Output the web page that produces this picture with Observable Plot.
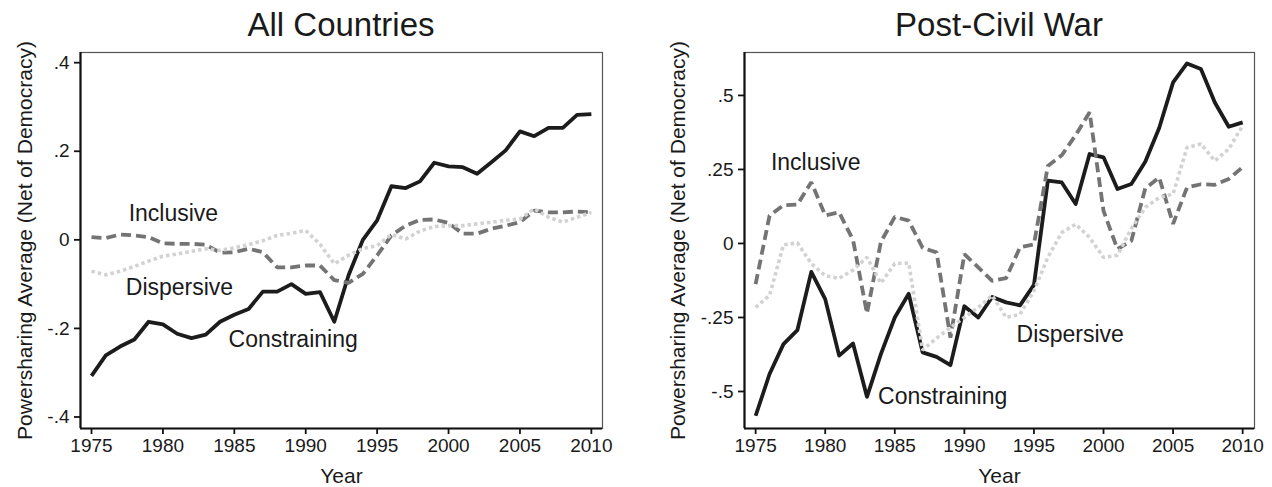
<!DOCTYPE html>
<html>
<head>
<meta charset="utf-8">
<script src="https://cdn.jsdelivr.net/npm/d3@7"></script>
<script src="https://cdn.jsdelivr.net/npm/@observablehq/plot@0.6"></script>
<style>
  body { margin: 0; background: #fff; font-family: "Liberation Sans", Arial, sans-serif; }
  #wrap { display: flex; width: 1272px; height: 487px; overflow: hidden; }
  .panel { width: 636px; position: relative; }
  .panel svg { display: block; }
  .title { position: absolute; top: 0; left: 0; width: 636px; height: 48px; line-height: 50px; font-size: 33px; color: #1a1a1a; text-align: center; box-sizing: border-box; z-index: 2; }
</style>
</head>
<body>
<div id="wrap"></div>
<script>
// ---- shared categories ----
const years = [1975,1976,1977,1978,1979,1980,1981,1982,1983,1984,1985,1986,1987,1988,1989,1990,1991,1992,
               1993,1994,1995,1996,1997,1998,1999,2000,2001,2002,2003,2004,2005,2006,2007,2008,2009,2010];
const xTicks = [1975, 1980, 1985, 1990, 1995, 2000, 2005, 2010];
const seriesNames = ["Constraining", "Inclusive", "Dispersive"];

// ---- All Countries ----
const allConstraining = [-0.307,-0.261,-0.241,-0.225,-0.185,-0.191,-0.212,-0.222,-0.214,-0.185,
  -0.169,-0.156,-0.117,-0.117,-0.100,-0.122,-0.118,-0.185,-0.080,0.000,
  0.044,0.121,0.117,0.132,0.174,0.166,0.164,0.149,0.175,0.202,
  0.245,0.234,0.253,0.253,0.282,0.284];
const allInclusive = [0.006,0.004,0.012,0.010,0.006,-0.008,-0.009,-0.009,-0.011,-0.029,
  -0.028,-0.020,-0.028,-0.062,-0.062,-0.058,-0.058,-0.091,-0.097,-0.077,
  -0.035,0.010,0.032,0.045,0.046,0.038,0.014,0.014,0.025,0.032,
  0.040,0.066,0.062,0.062,0.064,0.062];
const allDispersive = [-0.071,-0.079,-0.071,-0.060,-0.048,-0.037,-0.032,-0.026,-0.020,-0.024,
  -0.018,-0.011,-0.002,0.010,0.015,0.021,-0.010,-0.054,-0.035,-0.020,
  -0.013,0.012,0.002,0.020,0.030,0.032,0.032,0.036,0.040,0.044,
  0.047,0.070,0.051,0.040,0.051,0.062];
const allYTicks = [-0.4, -0.2, 0, 0.2, 0.4];
const allLabelText = ["Inclusive", "Dispersive", "Constraining"];
const allLabelX = [1977.6, 1977.4, 1984.6];
const allLabelY = [0.059, -0.107, -0.225];

// ---- Post-Civil War ----
const pcwConstraining = [-0.582,-0.441,-0.340,-0.293,-0.096,-0.188,-0.379,-0.338,-0.518,-0.374,
  -0.250,-0.170,-0.368,-0.383,-0.411,-0.212,-0.250,-0.181,-0.199,-0.209,
  -0.140,0.212,0.206,0.133,0.302,0.291,0.184,0.201,0.276,0.390,
  0.544,0.608,0.589,0.476,0.394,0.409];
const pcwInclusive = [-0.137,0.094,0.129,0.131,0.207,0.095,0.105,0.012,-0.236,0.005,
  0.090,0.077,-0.015,-0.030,-0.318,-0.036,-0.081,-0.126,-0.117,-0.013,
  -0.003,0.262,0.298,0.366,0.443,0.110,-0.019,0.009,0.186,0.223,
  0.066,0.189,0.200,0.198,0.218,0.258];
const pcwDispersive = [-0.216,-0.175,-0.005,0.002,-0.068,-0.109,-0.118,-0.090,-0.047,-0.134,
  -0.068,-0.066,-0.360,-0.320,-0.284,-0.250,-0.216,-0.176,-0.250,-0.239,
  -0.160,-0.047,0.037,0.065,0.020,-0.047,-0.040,0.050,0.122,0.155,
  0.167,0.324,0.336,0.279,0.319,0.398];
const pcwYTicks = [-0.5, -0.25, 0, 0.25, 0.5];
const pcwLabelText = ["Inclusive", "Dispersive", "Constraining"];
const pcwLabelX = [1976.1, 1993.75, 1983.8];
const pcwLabelY = [0.273, -0.308, -0.518];

const yAxisLabel = "Powersharing Average (Net of Democracy)";
const xAxisLabel = "Year";

function fmtY(d) {
  if (d === 0) return "0";
  return String(d).replace(/^(-?)0\./, "$1.");
}

function makePanel(cfg) {
  const table = (vals) => years.map((yr, i) => ({year: yr, value: vals[i]}));
  const labels = cfg.labelText.map((t, i) => ({text: t, x: cfg.labelX[i], y: cfg.labelY[i]}));
  const div = document.createElement("div");
  div.className = "panel";
  const t = document.createElement("div");
  t.className = "title";
  t.style.paddingLeft = cfg.marginLeft + "px";
  t.style.paddingRight = cfg.marginRight + "px";
  t.textContent = cfg.title;
  const chart = Plot.plot({
    width: 636,
    height: 487,
    marginTop: 52,
    marginBottom: 59,
    marginLeft: cfg.marginLeft,
    marginRight: cfg.marginRight,
    style: {fontFamily: "'Liberation Sans', Arial, sans-serif", background: "#fff", color: "#1a1a1a"},
    x: {domain: cfg.xDomain},
    y: {domain: cfg.yDomain},
    marks: [
      Plot.frame({stroke: "#555", strokeWidth: 1.2}),
      Plot.line(table(cfg.cons), {x: "year", y: "value", stroke: "#1c1c1c", strokeWidth: 3.8, strokeLinejoin: "round", strokeLinecap: "butt"}),
      Plot.line(table(cfg.incl), {x: "year", y: "value", stroke: "#747474", strokeWidth: 3.8, strokeDasharray: "10,5", strokeLinecap: "butt", strokeLinejoin: "miter"}),
      Plot.line(table(cfg.disp), {x: "year", y: "value", stroke: "#d2d2d2", strokeWidth: 3.6, strokeDasharray: "3.5,3", strokeLinecap: "butt", strokeLinejoin: "miter"}),
      Plot.ruleY([cfg.yDomain[0]], {stroke: "#111", strokeWidth: 2.2}),
      Plot.ruleX([cfg.xDomain[0]], {stroke: "#111", strokeWidth: 2.2}),
      Plot.axisX({ticks: xTicks, tickFormat: "d", tickSize: 6, tickPadding: 4, fontSize: 19, label: null, stroke: "#111", strokeWidth: 1.8}),
      Plot.axisY({ticks: cfg.yTicks, tickFormat: fmtY, tickSize: 6, tickPadding: 5, fontSize: 19, label: null, stroke: "#111", strokeWidth: 1.8}),
      Plot.text([yAxisLabel], {frameAnchor: "left", textAnchor: "middle", rotate: -90, lineAnchor: "top", dx: cfg.yLabelDx, fontSize: 21, fill: "#1a1a1a"}),
      Plot.text([xAxisLabel], {frameAnchor: "bottom", lineAnchor: "top", dy: 40, fontSize: 21, fill: "#1a1a1a"}),
      Plot.text(labels, {x: "x", y: "y", text: "text", textAnchor: "start", fontSize: 23, fill: "#1a1a1a"})
    ]
  });
  div.appendChild(chart);
  div.appendChild(t);
  return div;
}

const wrap = document.getElementById("wrap");
wrap.appendChild(makePanel({
  title: "All Countries",
  cons: allConstraining, incl: allInclusive, disp: allDispersive,
  yTicks: allYTicks, yDomain: [-0.426, 0.423], xDomain: [1974.23, 2010.78],
  marginLeft: 80, marginRight: 34, yLabelDx: -63,
  labelText: allLabelText, labelX: allLabelX, labelY: allLabelY
}));
wrap.appendChild(makePanel({
  title: "Post-Civil War",
  cons: pcwConstraining, incl: pcwInclusive, disp: pcwDispersive,
  yTicks: pcwYTicks, yDomain: [-0.625, 0.645], xDomain: [1974.2, 2010.85],
  marginLeft: 108, marginRight: 18, yLabelDx: -74,
  labelText: pcwLabelText, labelX: pcwLabelX, labelY: pcwLabelY
}));
</script>
</body>
</html>
